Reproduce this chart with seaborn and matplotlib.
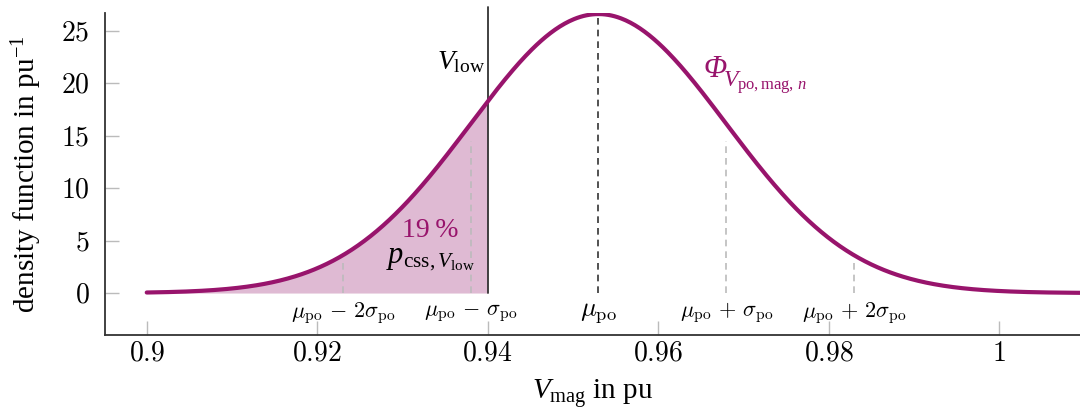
import numpy as np
import pandas as pd
import matplotlib
matplotlib.use("Agg")
import matplotlib.pyplot as plt
import seaborn as sns

# --- data ---
mu_po = 0.953        # mean in pu
sigma_po = 0.015     # std in pu
v_low = 0.94         # threshold in pu
p_css_label = "19\u2009%"
x_ticks = [0.9, 0.92, 0.94, 0.96, 0.98, 1.0]
x_tick_labels = ["0.9", "0.92", "0.94", "0.96", "0.98", "1"]
y_ticks = [0, 5, 10, 15, 20, 25]
sigma_marks = [-2, -1, 0, 1, 2]
sigma_mark_labels = [r"$\mu_\mathrm{po}\,-\,2\sigma_\mathrm{po}$",
                     r"$\mu_\mathrm{po}\,-\,\sigma_\mathrm{po}$",
                     r"$\mu_\mathrm{po}$",
                     r"$\mu_\mathrm{po}\,+\,\sigma_\mathrm{po}$",
                     r"$\mu_\mathrm{po}\,+\,2\sigma_\mathrm{po}$"]

def pdf(x):
    return np.exp(-0.5 * ((x - mu_po) / sigma_po) ** 2) / (sigma_po * np.sqrt(2 * np.pi))

xs = np.linspace(0.9, 1.01, 600)
df = pd.DataFrame({"V": xs, "density": pdf(xs)})

sns.set_theme(style="white")
plt.rcParams["font.family"] = ["Liberation Serif", "DejaVu Serif"]
plt.rcParams["mathtext.fontset"] = "custom"
plt.rcParams["mathtext.rm"] = "Liberation Serif"
plt.rcParams["mathtext.it"] = "Liberation Serif:italic"
plt.rcParams["mathtext.bf"] = "Liberation Serif:bold"
plt.rcParams["text.color"] = "black"
plt.rcParams["axes.labelcolor"] = "black"
plt.rcParams["xtick.color"] = "black"
plt.rcParams["ytick.color"] = "black"

PURPLE = "#98146C"
FILL = "#DFBAD3"

fig = plt.figure(figsize=(10.8, 4.16), dpi=100)
ax = fig.add_axes([0.0972, 0.1947, 0.9028, 0.7741])

xf = np.linspace(0.9, v_low, 300)
ax.fill_between(xf, 0, pdf(xf), color=FILL, lw=0, zorder=1)

# sigma dashed lines
for k in sigma_marks:
    xv = mu_po + k * sigma_po
    top = pdf(xv) * (1.0 if k == 0 else 0.9)
    col = "#333333" if k == 0 else "#BBBBBB"
    ax.plot([xv, xv], [0, top], ls=(0, (4, 3)), color=col, lw=1.2, zorder=2)

sns.lineplot(data=df, x="V", y="density", color=PURPLE, lw=3, ax=ax, zorder=4)

ax.plot([v_low, v_low], [0, 27.3], color="#333333", lw=1.3, zorder=3, clip_on=False)

ax.set_xlim(0.8951, 1.0095)
ax.set_ylim(-4.0, 26.7)
sns.despine(ax=ax)
for s in ["left", "bottom"]:
    ax.spines[s].set_color("#333333")
    ax.spines[s].set_linewidth(1.3)

ax.set_xticks(x_ticks)
ax.set_xticklabels([f"${t}$" for t in x_tick_labels], math_fontfamily="cm", fontsize=20)
ax.set_yticks(y_ticks)
ax.set_yticklabels([f"${t}$" for t in y_ticks], math_fontfamily="cm", fontsize=20)
ax.tick_params(axis="both", direction="in", length=10, width=1, color="#BBBBBB",
               bottom=True, left=True, labelcolor="black")
ax.tick_params(axis="x", pad=5)
ax.tick_params(axis="y", pad=11)

ax.set_xlabel(r"$V_\mathrm{mag}$ in pu", fontsize=21, labelpad=7)
ax.set_ylabel(r"density function in pu$^{-1}$", fontsize=21, labelpad=12)

for k, lab in zip(sigma_marks, sigma_mark_labels):
    ax.text(mu_po + k * sigma_po, -1.9, lab, ha="center", va="center",
            fontsize=16 if k != 0 else 19, math_fontfamily="cm")

ax.text(v_low - 0.0003, 22.0, r"$V_\mathrm{low}$", ha="right", va="center", fontsize=20)
ax.annotate("Φ", xy=(0.9653, 21.3), ha="left", va="center", fontsize=22,
            style="italic", color=PURPLE)
ax.annotate(r"$V_{\mathrm{po,mag},\,n}$", xy=(0.9653, 21.3), xytext=(14, -9),
            textcoords="offset points", ha="left", va="center", fontsize=17, color=PURPLE)
ax.text(0.9333, 6.0, p_css_label, ha="center", va="center", fontsize=20, color=PURPLE)
ax.text(0.9333, 3.3, r"$p_{\mathrm{css},V_\mathrm{low}}$", ha="center", va="center", fontsize=22)

fig.savefig("out.png", dpi=100)
